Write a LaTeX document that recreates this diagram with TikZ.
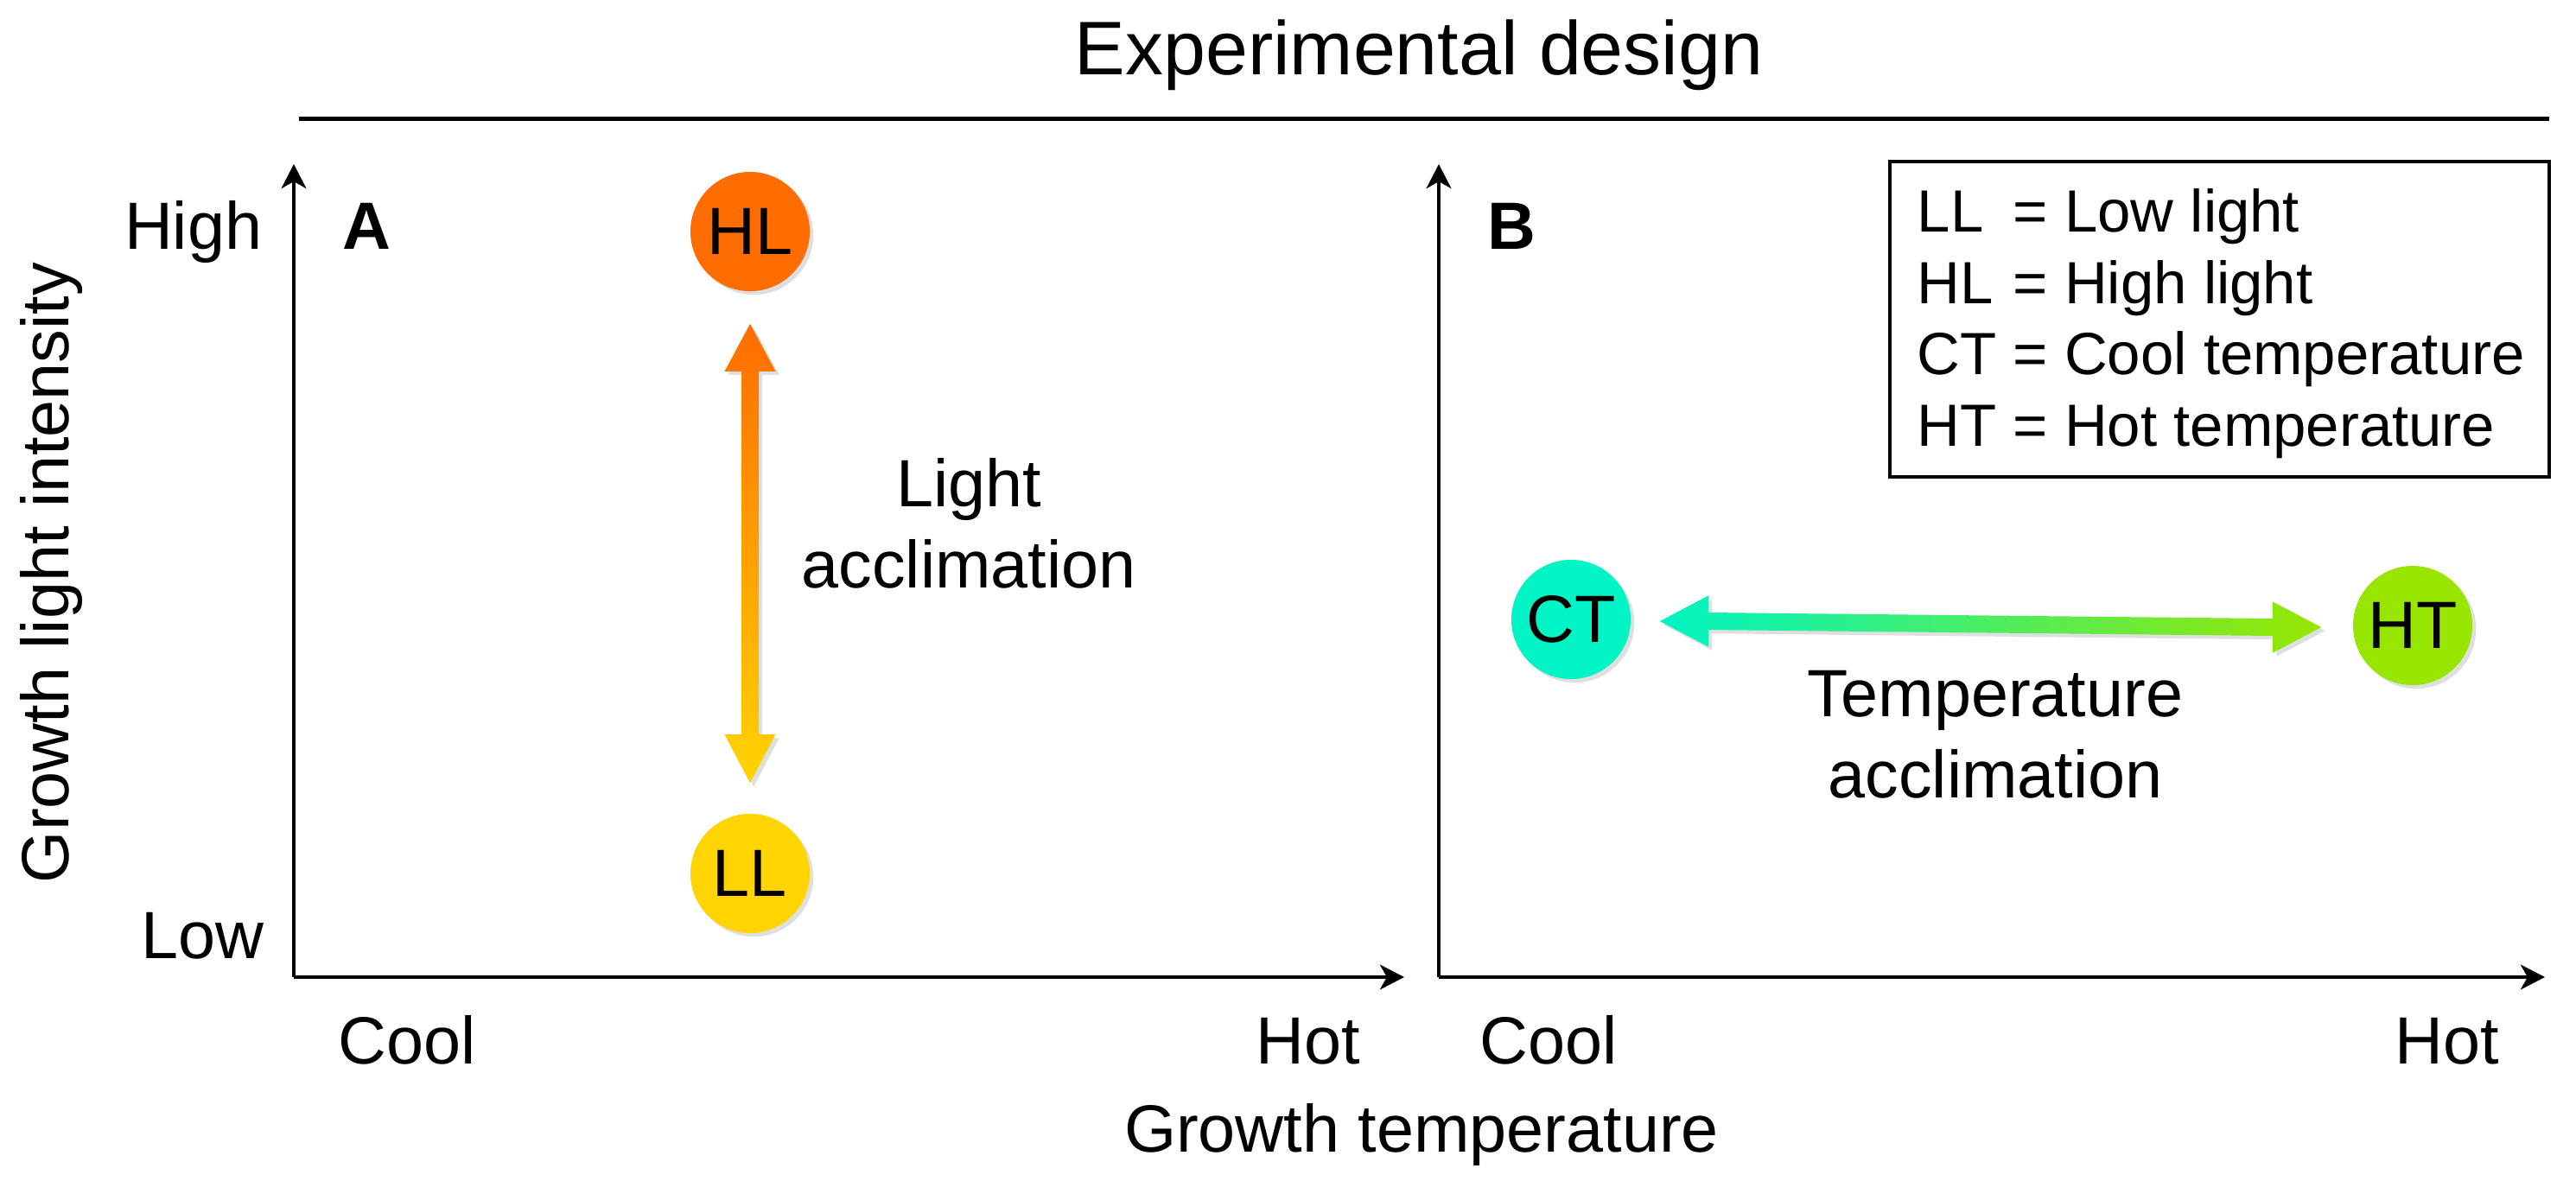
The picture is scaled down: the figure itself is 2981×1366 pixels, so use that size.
\documentclass[tikz,border=0pt]{standalone}
\usepackage{fontspec}
\setmainfont{Liberation Sans}
\usepackage{tikz}
\usetikzlibrary{arrows.meta, calc, shadows}

\definecolor{hlorange}{RGB}{255,108,0}
\definecolor{llyellow}{RGB}{255,212,0}
\definecolor{ctaqua}{RGB}{0,244,196}
\definecolor{htgreen}{RGB}{152,230,0}
\definecolor{midgreen}{RGB}{0,240,70}

\begin{document}
\begin{tikzpicture}[x=0.01cm, y=-0.01cm, line width=1pt,
    lbl/.style={inner sep=0pt, font=\fontsize{22}{26.5}\selectfont},
    dot/.style={circle, inner sep=0pt, minimum size=1.38cm, font=\fontsize{22}{26.5}\selectfont,
        drop shadow={shadow xshift=1.2pt, shadow yshift=-1.2pt, opacity=.25, fill=gray}},
    fatshadow/.style={drop shadow={shadow xshift=1.2pt, shadow yshift=-1.2pt, opacity=.25, fill=gray}},
    axis/.style={-{Stealth[length=8pt, width=8.2pt, inset=2.3pt]}}]
    \useasboundingbox (0,0) rectangle (2981,1366);

    % title
    \node[lbl, font=\fontsize{25}{30}\selectfont, anchor=base] (title) at (1642,86) {Experimental design};
    \draw[line width=1.4pt] (346,137.5) -- (2950,137.5);

    % axes
    \coordinate (oA) at (340,1131);
    \coordinate (oB) at (1665,1131);
    \draw[axis] (oA) -- (340,190);
    \draw[axis] (oA) -- (1625,1131);
    \draw[axis] (oB) -- (1665,190);
    \draw[axis] (oB) -- (2945,1131);

    % axis labels
    \node[lbl, anchor=base east] (high) at (305,288) {High};
    \node[lbl, anchor=base east] (low) at (307,1109) {Low};
    \node[lbl, rotate=90, anchor=base] (ylab) at (80,663) {Growth light intensity};
    \node[lbl, anchor=base] (coolA) at (471,1231) {Cool};
    \node[lbl, anchor=base] (hotA) at (1514,1231) {Hot};
    \node[lbl, anchor=base] (coolB) at (1792,1231) {Cool};
    \node[lbl, anchor=base] (hotB) at (2832,1231) {Hot};
    \node[lbl, anchor=base] (xlab) at (1645,1333) {Growth temperature};
    \node[lbl, font=\fontsize{22}{26.5}\selectfont\bfseries, anchor=base west] (panA) at (395,288) {A};
    \node[lbl, font=\fontsize{22}{26.5}\selectfont\bfseries, anchor=base west] (panB) at (1720,288) {B};

    % treatments
    \node[dot, fill=hlorange] (HL) at (868,268) {HL};
    \node[dot, fill=llyellow] (LL) at (868,1011) {LL};
    \node[dot, fill=ctaqua] (CT) at (1818,717) {CT};
    \node[dot, fill=htgreen] (HT) at (2792,724) {HT};

    % light arrow
    \coordinate (la1) at ($(HL.south)+(0,36)$);
    \coordinate (la2) at ($(LL.north)+(0,-34)$);
    \shade[top color=hlorange, bottom color=llyellow, fatshadow] (la1) -- ++(29.5,55) -- ++(-19.5,0)
        -- ($(la2)+(10,-56)$) -- ++(19.5,0) -- (la2) -- ++(-29.5,-56) -- ++(19.5,0)
        -- ($(la1)+(-10,55)$) -- ++(-19.5,0) -- cycle;

    % temperature arrow
    \coordinate (ta1) at ($(CT.east)+(32,2)$);
    \coordinate (ta2) at ($(HT.west)+(-35,2)$);
    \shade[left color=ctaqua, middle color=midgreen, right color=htgreen, fatshadow] (ta1) -- ++(56,-29.5) -- ++(0,19.5)
        -- ($(ta2)+(-56,-10)$) -- ++(0,-19.5) -- (ta2) -- ++(-56,29.5) -- ++(0,-19.5)
        -- ($(ta1)+(56,10)$) -- ++(0,19.5) -- cycle;

    \node[lbl, align=center, anchor=base] (lightacc) at (1121,680) {Light\\acclimation};
    \node[lbl, align=center, anchor=base] (tempacc) at (2309,923) {Temperature\\acclimation};

    % legend
    \draw (2187,187) rectangle (2950,552);
    \node[anchor=base west, inner sep=0pt, font=\fontsize{19.6}{23.6}\selectfont] (legend) at (2217,268)
        {\begin{tabular}[t]{@{}l@{\ =\ }l@{}}
        LL & Low light\\
        HL & High light\\
        CT & Cool temperature\\
        HT & Hot temperature
        \end{tabular}};
\end{tikzpicture}
\end{document}
